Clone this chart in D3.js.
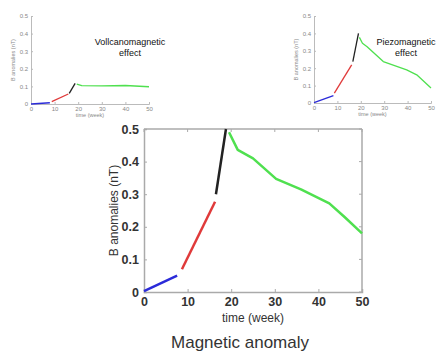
<!DOCTYPE html>
<html>
<head>
<meta charset="utf-8">
<script src="https://cdn.jsdelivr.net/npm/d3@7"></script>
<style>
  body { margin: 0; background: #fff; }
  svg { display: block; font-family: "Liberation Sans", Arial, sans-serif; }
</style>
</head>
<body>
<script>
// ---- data (time in weeks, anomaly in nT) ----
const xTicks = [0, 10, 20, 30, 40, 50];
const yTicks = [0, 0.1, 0.2, 0.3, 0.4, 0.5];

// main chart: magnetic anomaly
const mainBlue  = [[0, 0.003], [7.6, 0.05]];
const mainRed   = [[8.7, 0.07], [16.3, 0.277]];
const mainBlack = [[16.5, 0.30], [18.8, 0.50]];
const mainGreen = [[19.5, 0.49], [21.5, 0.436], [25, 0.41], [30.3, 0.347], [36, 0.315], [42.5, 0.272], [46, 0.23], [50, 0.18]];

// small left: volcanomagnetic effect
const volcBlue  = [[0, 0], [8, 0.007]];
const volcRed   = [[8.8, 0.013], [15.8, 0.057]];
const volcBlack = [[16.2, 0.06], [18.7, 0.117]];
const volcGreen = [[19.4, 0.113], [21.5, 0.104], [30, 0.103], [40, 0.105], [50, 0.098]];

// small right: piezomagnetic effect
const piezoBlue  = [[0, 0.002], [8.3, 0.042]];
const piezoRed   = [[8.7, 0.057], [16.1, 0.219]];
const piezoBlack = [[16.6, 0.238], [19, 0.40]];
const piezoGreen = [[19.4, 0.377], [20.7, 0.343], [22.7, 0.323], [29.6, 0.238], [39.6, 0.19], [43.9, 0.162], [50, 0.086]];

const colors = { blue: "#2b2bd9", red: "#e03a3a", black: "#222", green: "#4fe04f" };

const svg = d3.select("body").append("svg")
  .attr("width", 441)
  .attr("height", 354);

function drawPanel(box, segs, opts) {
  const x = d3.scaleLinear().domain([0, 50]).range([box.left, box.right]);
  const y = d3.scaleLinear().domain([0, 0.5]).range([box.bottom, box.top]);
  const g = svg.append("g");

  const xAxis = g.append("g")
    .attr("transform", `translate(0,${box.bottom})`)
    .call(d3.axisBottom(x).tickValues(xTicks).tickSize(-opts.tick).tickPadding(opts.pad).tickFormat(d3.format("d")));
  const yAxis = g.append("g")
    .attr("transform", `translate(${box.left},0)`)
    .call(d3.axisLeft(y).tickValues(yTicks).tickSize(-opts.tick).tickPadding(opts.pad).tickFormat(d => d === 0 ? "0" : d3.format(".1f")(d)));

  [xAxis, yAxis].forEach(a => {
    a.select(".domain").attr("stroke", opts.axisColor).attr("stroke-width", opts.axisWidth);
    a.selectAll(".tick line").attr("stroke", opts.axisColor);
    a.selectAll(".tick text").attr("fill", opts.textColor).attr("font-size", opts.fontSize).attr("font-weight", opts.weight);
  });

  if (opts.box) {
    g.append("line").attr("x1", box.left).attr("x2", box.right).attr("y1", box.top).attr("y2", box.top)
      .attr("stroke", opts.axisColor).attr("stroke-width", opts.axisWidth);
    g.append("line").attr("x1", box.right).attr("x2", box.right).attr("y1", box.top).attr("y2", box.bottom)
      .attr("stroke", opts.axisColor).attr("stroke-width", opts.axisWidth);
    // ticks on top and right
    xTicks.forEach(t => g.append("line").attr("x1", x(t)).attr("x2", x(t)).attr("y1", box.top).attr("y2", box.top + opts.tick).attr("stroke", opts.axisColor));
    yTicks.forEach(t => g.append("line").attr("x1", box.right).attr("x2", box.right - opts.tick).attr("y1", y(t)).attr("y2", y(t)).attr("stroke", opts.axisColor));
  }

  const line = d3.line().x(d => x(d[0])).y(d => y(d[1]));
  segs.forEach(s => {
    g.append("path").datum(s.data)
      .attr("d", line)
      .attr("fill", "none")
      .attr("stroke", s.color)
      .attr("stroke-width", opts.lineWidth)
      .attr("stroke-linejoin", "round");
  });

  g.append("text")
    .attr("x", (box.left + box.right) / 2)
    .attr("y", box.bottom + opts.xlabDy)
    .attr("text-anchor", "middle")
    .attr("font-size", opts.labSize)
    .attr("fill", opts.textColor)
    .text("time (week)");
  g.append("text")
    .attr("transform", `translate(${box.left - opts.ylabDx},${(box.top + box.bottom) / 2}) rotate(-90)`)
    .attr("text-anchor", "middle")
    .attr("font-size", opts.labSize)
    .attr("fill", opts.textColor)
    .text("B anomalies (nT)");
}

const smallOpts = {
  tick: 2, pad: 3, axisColor: "#bbb", axisWidth: 1, textColor: "#888", fontSize: 6, weight: "normal",
  box: false, lineWidth: 1.3, xlabDy: 13, ylabDx: 16, labSize: 5.5
};

drawPanel({ left: 31, right: 149, top: 16, bottom: 104 },
  [{ data: volcBlue, color: colors.blue }, { data: volcRed, color: colors.red },
   { data: volcBlack, color: colors.black }, { data: volcGreen, color: colors.green }], smallOpts);

drawPanel({ left: 314, right: 431, top: 16, bottom: 103 },
  [{ data: piezoBlue, color: colors.blue }, { data: piezoRed, color: colors.red },
   { data: piezoBlack, color: colors.black }, { data: piezoGreen, color: colors.green }], smallOpts);

drawPanel({ left: 144, right: 362, top: 129, bottom: 292 },
  [{ data: mainBlue, color: colors.blue }, { data: mainRed, color: colors.red },
   { data: mainBlack, color: colors.black }, { data: mainGreen, color: colors.green }],
  { tick: 3, pad: 5, axisColor: "#aaa", axisWidth: 1.5, textColor: "#333", fontSize: 12.5, weight: "bold",
    box: true, lineWidth: 2.5, xlabDy: 30, ylabDx: 26, labSize: 12 });

// annotations
const ann = [
  { lines: ["Vollcanomagnetic", "effect"], x: 130, y: 45 },
  { lines: ["Piezomagnetic", "effect"], x: 406, y: 45 }
];
ann.forEach(a => {
  a.lines.forEach((t, i) => {
    svg.append("text")
      .attr("x", a.x)
      .attr("y", a.y + i * 11)
      .attr("text-anchor", "middle")
      .attr("font-size", 9)
      .attr("fill", "#111")
      .text(t);
  });
});

svg.append("text")
  .attr("x", 240)
  .attr("y", 348)
  .attr("text-anchor", "middle")
  .attr("font-size", 17)
  .attr("fill", "#333")
  .text("Magnetic anomaly");
</script>
</body>
</html>
